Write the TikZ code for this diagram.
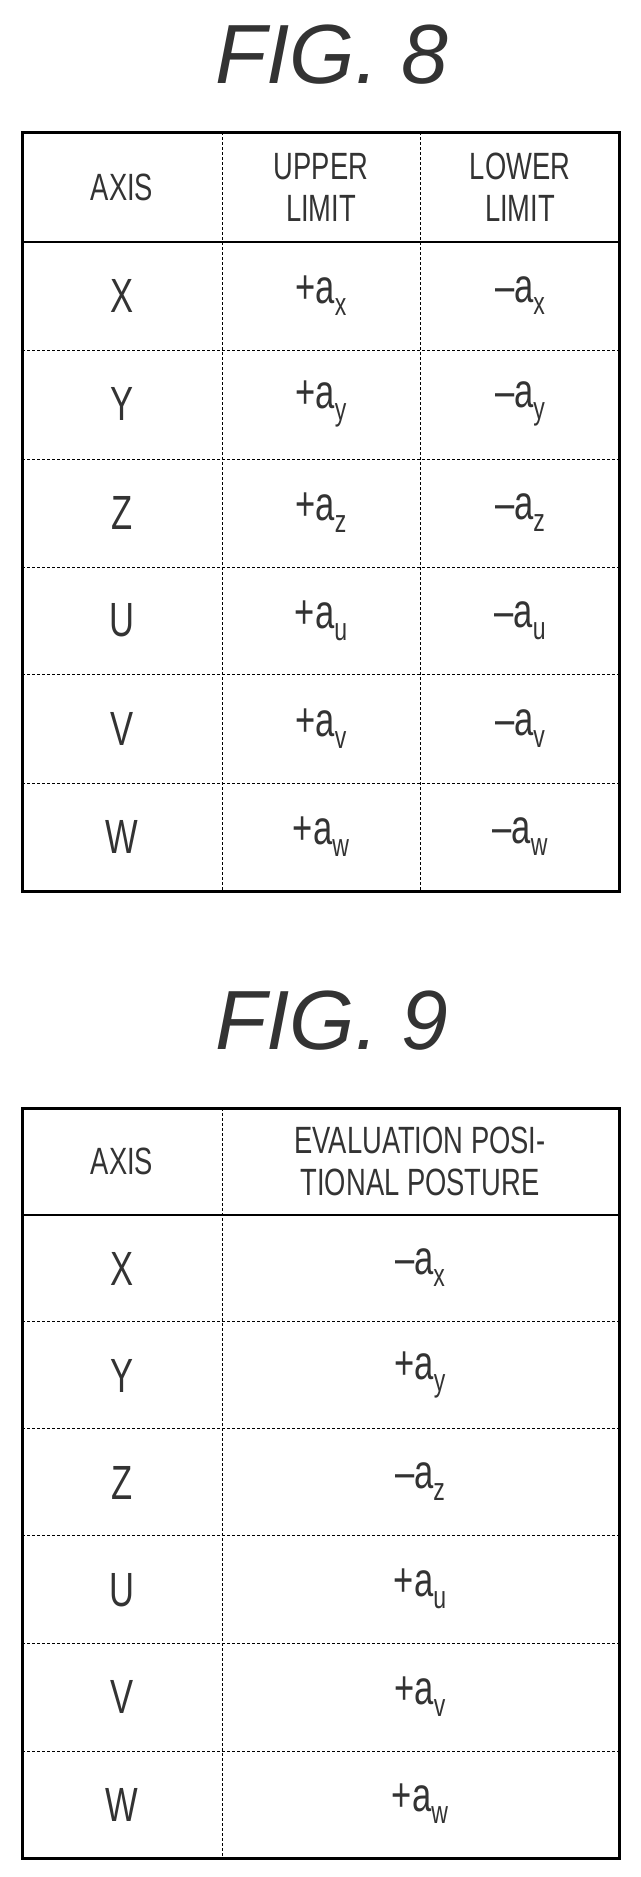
\documentclass[tikz,border=0pt]{standalone}
\usepackage{fontspec}
\setmainfont{Liberation Sans}
\newcommand{\nx}[1]{\scalebox{0.72}[1]{#1}}
\newcommand{\av}[2]{\nx{#1a\raisebox{-0.25em}{\fontsize{32}{32}\selectfont #2}}}
\begin{document}
\begin{tikzpicture}[x=1pt,y=-1pt,
  outer/.style={line width=3pt},
  inner/.style={line width=1pt,densely dashed},
  head/.style={line width=2.5pt},
  cell/.style={font=\fontsize{48}{44}\selectfont,text=black!80,align=center},
  hcell/.style={font=\fontsize{38}{42}\selectfont,text=black!80,align=center},
  title/.style={font=\fontsize{84}{84}\selectfont\itshape,text=black!80}]
\useasboundingbox (0,0) rectangle (640,1877);
% FIG 8
\node[title] (t8) at (332,55) {FIG. 8};
\draw[outer] (22,132) rectangle (619,891);
\draw[head] (22,242) -- (619,242);
\foreach \y in {350,459,567,674,783} \draw[inner] (22,\y) -- (619,\y);
\draw[inner] (222,132) -- (222,891);
\draw[inner] (420,132) -- (420,891);
\node[hcell] (h1) at (122,187) {\nx{AXIS}};
\node[hcell] (h2) at (321,187) {\nx{UPPER}\\\nx{LIMIT}};
\node[hcell] (h3) at (520,187) {\nx{LOWER}\\\nx{LIMIT}};
\foreach \a [count=\i] in {X,Y,Z,U,V,W}{
  \pgfmathsetmacro{\yy}{242+108.2*(\i-0.5)}
  \node[cell] (a\i) at (122,\yy) {\nx{\a}};
}
\node[cell] (u1) at (321,296) {\av{+}{x}}; \node[cell] (l1) at (520,296) {\av{--}{x}};
\node[cell] (u2) at (321,404) {\av{+}{y}}; \node[cell] (l2) at (520,404) {\av{--}{y}};
\node[cell] (u3) at (321,513) {\av{+}{z}}; \node[cell] (l3) at (520,513) {\av{--}{z}};
\node[cell] (u4) at (321,621) {\av{+}{u}}; \node[cell] (l4) at (520,621) {\av{--}{u}};
\node[cell] (u5) at (321,729) {\av{+}{v}}; \node[cell] (l5) at (520,729) {\av{--}{v}};
\node[cell] (u6) at (321,837) {\av{+}{w}}; \node[cell] (l6) at (520,837) {\av{--}{w}};
% FIG 9
\node[title] (t9) at (332,1021) {FIG. 9};
\draw[outer] (22,1108) rectangle (619,1858);
\draw[head] (22,1215) -- (619,1215);
\foreach \y in {1321,1428,1535,1643,1751} \draw[inner] (22,\y) -- (619,\y);
\draw[inner] (222,1108) -- (222,1858);
\node[hcell] (g1) at (122,1161) {\nx{AXIS}};
\node[hcell] (g2) at (420,1161) {\nx{EVALUATION POSI-}\\\nx{TIONAL POSTURE}};
\foreach \a [count=\i] in {X,Y,Z,U,V,W}{
  \pgfmathsetmacro{\yy}{1215+107.2*(\i-0.5)}
  \node[cell] (b\i) at (122,\yy) {\nx{\a}};
}
\node[cell] (e1) at (420,1268) {\av{--}{x}};
\node[cell] (e2) at (420,1375) {\av{+}{y}};
\node[cell] (e3) at (420,1482) {\av{--}{z}};
\node[cell] (e4) at (420,1589) {\av{+}{u}};
\node[cell] (e5) at (420,1697) {\av{+}{v}};
\node[cell] (e6) at (420,1804) {\av{+}{w}};
\end{tikzpicture}
\end{document}
